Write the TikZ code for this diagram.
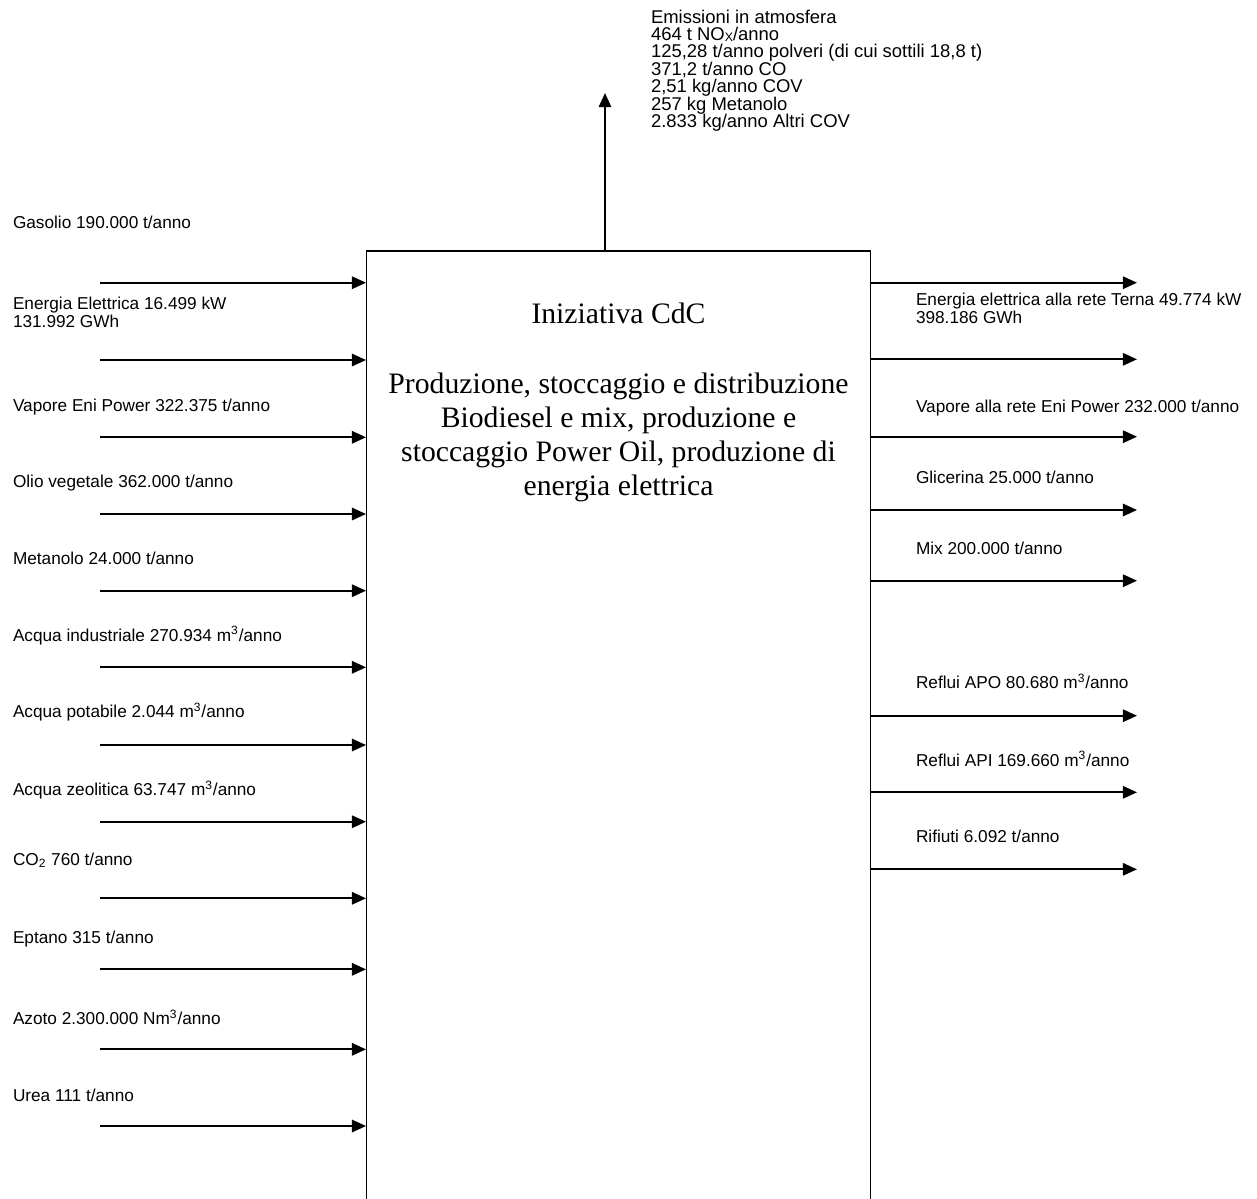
\documentclass[tikz,border=0pt]{standalone}
\usepackage{fontspec}
\setmainfont{Liberation Sans}
\newfontfamily\serifcdc{Liberation Serif}
\newcommand\fontemis{\fontsize{10.5}{9.9}\selectfont\lineskiplimit=-10pt\relax}
\usepackage{tikz}
\usetikzlibrary{arrows.meta}

\begin{document}
\begin{tikzpicture}[->,>={Triangle[length=8pt,width=7pt]},line width=1.1pt,
                    x=0.02cm,y=-0.02cm]
  \tikzstyle{every node}=[inner sep=0pt,outer sep=0pt]
  \tikzstyle{voce}=[font=\fontsize{9.8}{10}\selectfont,anchor=base west]
  \tikzstyle{voci}=[font=\fontsize{9.8}{10}\selectfont,anchor=north west,align=left]

  \useasboundingbox (0,0) rectangle (1257,1198);

  \node[draw,line width=0.6pt,anchor=north,minimum width=10.1cm,
        minimum height=20.4cm] (cdc) at (618.5,251) {};
  \node[font=\serifcdc\fontsize{16.9}{19.4}\selectfont,align=center,anchor=north]
        (descr) at (618.5,302.5)
        {Iniziativa CdC\\[20.4pt]
         Produzione, stoccaggio e distribuzione\\
         Biodiesel e mix, produzione e\\
         stoccaggio Power Oil, produzione di\\
         energia elettrica};

  \coordinate  (emis) at (605,93);

  \coordinate  (in1)  at (100,282.7);
  \coordinate  (in2)  at (100,360);
  \coordinate  (in3)  at (100,437.3);
  \coordinate  (in4)  at (100,514);
  \coordinate  (in5)  at (100,590.7);
  \coordinate  (in6)  at (100,667.3);
  \coordinate  (in7)  at (100,745);
  \coordinate  (in8)  at (100,821.7);
  \coordinate  (in9)  at (100,898.3);
  \coordinate  (in10) at (100,969.3);
  \coordinate  (in11) at (100,1049.3);
  \coordinate  (in12) at (100,1126);

  \coordinate  (out1) at (1137,282.7);
  \coordinate  (out2) at (1137,359.3);
  \coordinate  (out3) at (1137,436.7);
  \coordinate  (out4) at (1137,510);
  \coordinate  (out5) at (1137,580.7);
  \coordinate  (out6) at (1137,715.7);
  \coordinate  (out7) at (1137,792.3);
  \coordinate  (out8) at (1137,869.3);

  \path (cdc.north -| emis) edge (emis)
        (in1)  edge (in1 -| cdc.west)
        (in2)  edge (in2 -| cdc.west)
        (in3)  edge (in3 -| cdc.west)
        (in4)  edge (in4 -| cdc.west)
        (in5)  edge (in5 -| cdc.west)
        (in6)  edge (in6 -| cdc.west)
        (in7)  edge (in7 -| cdc.west)
        (in8)  edge (in8 -| cdc.west)
        (in9)  edge (in9 -| cdc.west)
        (in10) edge (in10 -| cdc.west)
        (in11) edge (in11 -| cdc.west)
        (in12) edge (in12 -| cdc.west)
        (out1 -| cdc.east) edge (out1)
        (out2 -| cdc.east) edge (out2)
        (out3 -| cdc.east) edge (out3)
        (out4 -| cdc.east) edge (out4)
        (out5 -| cdc.east) edge (out5)
        (out6 -| cdc.east) edge (out6)
        (out7 -| cdc.east) edge (out7)
        (out8 -| cdc.east) edge (out8);

  % emissioni
  \node[voci,font=\fontemis] (emissioni) at (651,9.8)
        {Emissioni in atmosfera\\
         464 t NO\raisebox{-0.8pt}{\fontsize{7}{7}\selectfont X}/anno\\
         125,28 t/anno polveri (di cui sottili 18,8 t)\\
         371,2 t/anno CO\\
         2,51 kg/anno COV\\
         257 kg Metanolo\\
         2.833 kg/anno Altri COV};

  % ingressi
  \node[voce] (gasolio)   at (13,228.2)  {Gasolio 190.000 t/anno};
  \node[voci] (energia)   at (13,297)    {Energia Elettrica 16.499 kW\\131.992 GWh};
  \node[voce] (vapore)    at (13,411.2)  {Vapore Eni Power 322.375 t/anno};
  \node[voce] (olio)      at (13,487.9)  {Olio vegetale 362.000 t/anno};
  \node[voce] (metanolo)  at (13,564.5)  {Metanolo 24.000 t/anno};
  \node[voce] (acquaind)  at (13,641.2)  {Acqua industriale 270.934 m\textsuperscript{3}/anno};
  \node[voce] (acquapot)  at (13,717.9)  {Acqua potabile 2.044 m\textsuperscript{3}/anno};
  \node[voce] (acquazeo)  at (13,795.5)  {Acqua zeolitica 63.747 m\textsuperscript{3}/anno};
  \node[voce] (co2)       at (13,865)    {CO\textsubscript{2} 760 t/anno};
  \node[voce] (eptano)    at (13,943.5)  {Eptano 315 t/anno};
  \node[voce] (azoto)     at (13,1024.5) {Azoto 2.300.000 Nm\textsuperscript{3}/anno};
  \node[voce] (urea)      at (13,1101.2) {Urea 111 t/anno};

  % uscite
  \node[voci] (terna)     at (916,293)   {Energia elettrica alla rete Terna 49.774 kW\\398.186 GWh};
  \node[voce] (vaporeeni) at (916,412.9) {Vapore alla rete Eni Power 232.000 t/anno};
  \node[voce] (glicerina) at (916,483.9) {Glicerina 25.000 t/anno};
  \node[voce] (mix)       at (916,554.5) {Mix 200.000 t/anno};
  \node[voce] (apo)       at (916,688.9) {Reflui APO 80.680 m\textsuperscript{3}/anno};
  \node[voce] (api)       at (916,766.2) {Reflui API 169.660 m\textsuperscript{3}/anno};
  \node[voce] (rifiuti)   at (916,842.9) {Rifiuti 6.092 t/anno};

\end{tikzpicture}
\end{document}
